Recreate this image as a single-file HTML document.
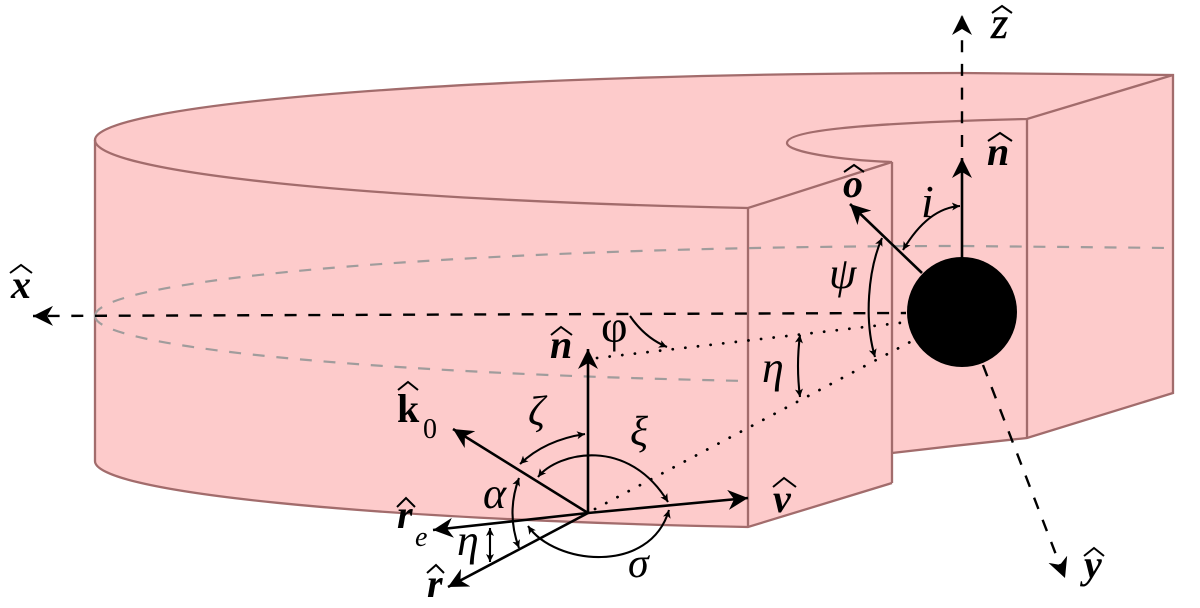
<!DOCTYPE html>
<html><head><meta charset="utf-8"><style>
html,body{margin:0;padding:0;background:#fff}
svg{display:block}
text{font-family:"Liberation Serif",serif;fill:#000}
.n{font-style:italic;font-size:42px}
.b{font-style:italic;font-weight:bold;font-size:40px}
.e{stroke:#a26c6c;stroke-width:2.3;fill:none}
.g{stroke:#a09c9c;stroke-width:2.2;fill:none;stroke-dasharray:12 11.7}
.k{stroke:#000;fill:none;stroke-width:2.6}
.s{stroke:#000;fill:none;stroke-width:2.1}
.d{stroke:#000;fill:none;stroke-width:2.4;stroke-dasharray:12 11.7}
.o{stroke:#000;fill:none;stroke-width:2.8;stroke-dasharray:0.1 12.6;stroke-linecap:round}
.h{stroke:#000;fill:none;stroke-width:2}
</style></head><body>
<svg width="1200" height="608" viewBox="0 0 1200 608" xmlns="http://www.w3.org/2000/svg">
<defs>
<marker id="a" markerUnits="userSpaceOnUse" markerWidth="22" markerHeight="22" refX="20" refY="10" orient="auto"><path d="M20 10 L0 0 L6 10 L0 20 Z" fill="#000"/></marker>
<marker id="m" markerUnits="userSpaceOnUse" markerWidth="10" markerHeight="10" refX="8" refY="4" orient="auto"><path d="M8 4 L0 0 L2 4 L0 8 Z" fill="#000"/></marker>
<marker id="t" markerUnits="userSpaceOnUse" markerWidth="10" markerHeight="10" refX="0" refY="4" orient="auto"><path d="M0 4 L8 0 L6 4 L8 8 Z" fill="#000"/></marker>
</defs>
<path d="M95 140 A865 67 0 0 1 960 73 L1173 75 L1173 393 L1027 438 Q960 445 892 453 L892 483 L748 527 A865 68 0 0 1 95 461 Z" fill="#fdcbcb"/>
<path class="e" d="M95 461 L95 140 A865 67 0 0 1 960 73 L1173 75 L1173 393 L1027 438 Q960 445 892 453"/>
<path class="e" d="M892 483 L748 527 A865 68 0 0 1 95 461"/>
<path class="e" d="M95 140 A865 70 0 0 0 748 208 L892 162 C840 160 787 152 787 143 C787 128 900 122 1027 119 L1173 75"/>
<path class="e" d="M748 208 V527 M892 162 V483 M1027 119 V438"/>
<path class="g" d="M95 316 A865 70 0 0 1 960 246 L1173 248"/>
<path class="g" d="M95 316 A865 67 0 0 0 748 381"/>

<path class="d" style="stroke-dashoffset:6.8" d="M906 313 L33 316" marker-end="url(#a)"/>
<path class="d" d="M962 147 L962 15" marker-end="url(#a)"/>
<path class="d" d="M983 365 L1065 578" marker-end="url(#a)"/>
<path class="k" d="M962 262 V158" marker-end="url(#a)"/>
<path class="k" d="M922 273 L850 204" marker-end="url(#a)"/>
<path class="k" d="M588 513 V349" marker-end="url(#a)"/>
<path class="k" d="M588 513 L748 498" marker-end="url(#a)"/>
<path class="k" d="M588 513 L453 429" marker-end="url(#a)"/>
<path class="k" d="M588 513 L433 530" marker-end="url(#a)"/>
<path class="k" d="M588 513 L448 587" marker-end="url(#a)"/>
<path class="o" d="M597 358 L908 322"/>
<path class="o" d="M595 509 L912 341"/>

<path class="s" d="M520 464 Q545 440 585 434" marker-start="url(#t)" marker-end="url(#m)"/>
<path class="s" d="M538 477 C558 452 628 436 668 502" marker-start="url(#t)" marker-end="url(#m)"/>
<path class="s" d="M528 526 C555 565 650 575 669 510" marker-start="url(#t)" marker-end="url(#m)"/>
<path class="s" d="M519 478 Q506 513 519 548" marker-start="url(#t)" marker-end="url(#m)"/>
<path class="s" d="M490 528 V562" marker-start="url(#t)" marker-end="url(#m)"/>
<path class="s" d="M800 335 Q796 366 800 397" marker-start="url(#t)" marker-end="url(#m)"/>
<path class="s" d="M882 238 C868 270 864 320 875 357" marker-start="url(#t)" marker-end="url(#m)"/>
<path class="s" d="M903 250 Q928 208 960 206" marker-start="url(#t)" marker-end="url(#m)"/>
<path class="s" d="M630 316 Q645 338 667 347" marker-end="url(#m)"/>

<circle cx="962" cy="312" r="55" fill="#000"/>

<text class="n" x="991" y="38" style="font-size:44px;stroke:#000;stroke-width:.5">z</text><path class="h" d="M992 13 L1002 6 L1012 13"/>
<text class="b" x="987" y="165">n</text><path class="h" d="M988 141 L1000 133 L1012 141"/>
<text class="b" x="843" y="197">o</text><path class="h" d="M844 172 L854 165 L864 172"/>
<text class="n" x="921" y="217" style="font-size:46px">i</text>
<text class="n" x="829" y="288" style="font-size:44px">ψ</text>
<text class="n" x="762" y="382" style="font-size:44px">η</text>
<text x="601" y="342" style="font-size:46px">φ</text>
<text class="b" x="550" y="358">n</text><path class="h" d="M551 335 L561 327 L572 335"/>
<text x="397" y="422" style="font-size:40px;font-weight:bold">k</text><path class="h" d="M398 390 L408 382 L418 390"/>
<text x="423" y="438" style="font-size:28px">0</text>
<text class="n" x="528" y="425">ζ</text>
<text class="n" x="630" y="445">ξ</text>
<text class="n" x="483" y="508" style="font-size:44px">α</text>
<text class="b" x="397" y="528">r</text><path class="h" d="M397 507 L406 498 L415 507"/>
<text class="n" x="415" y="546" style="font-size:28px">e</text>
<text class="n" x="457" y="555" style="font-size:44px">η</text>
<text class="b" x="427" y="597">r</text><path class="h" d="M427 573 L436 565 L444 573"/>
<text class="n" x="628" y="577">σ</text>
<text class="b" x="773" y="512">v</text><path class="h" d="M773 487 L784 478 L796 487"/>
<text class="b" x="1084" y="578">y</text><path class="h" d="M1084 556 L1094 548 L1104 556"/>
<text class="b" x="11" y="298">x</text><path class="h" d="M10 273 L21 265 L32 273"/>
</svg>
</body></html>
